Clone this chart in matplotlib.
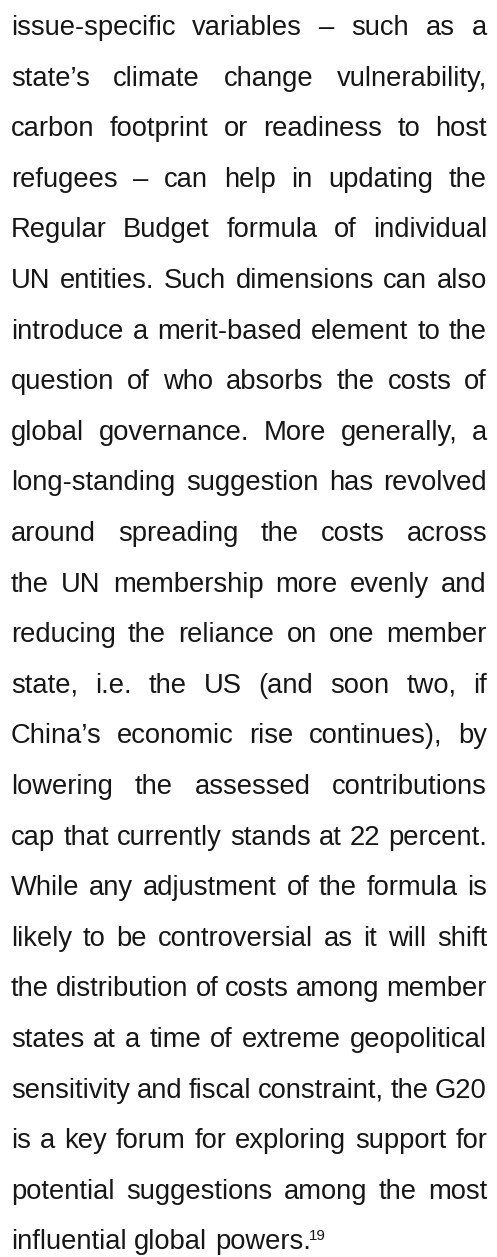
import matplotlib
matplotlib.use("Agg")
import matplotlib.pyplot as plt

lines = [
    "issue-specific variables – such as a",
    "state’s climate change vulnerability,",
    "carbon footprint or readiness to host",
    "refugees – can help in updating the",
    "Regular Budget formula of individual",
    "UN entities. Such dimensions can also",
    "introduce a merit-based element to the",
    "question of who absorbs the costs of",
    "global governance. More generally, a",
    "long-standing suggestion has revolved",
    "around spreading the costs across",
    "the UN membership more evenly and",
    "reducing the reliance on one member",
    "state, i.e. the US (and soon two, if",
    "China’s economic rise continues), by",
    "lowering the assessed contributions",
    "cap that currently stands at 22 percent.",
    "While any adjustment of the formula is",
    "likely to be controversial as it will shift",
    "the distribution of costs among member",
    "states at a time of extreme geopolitical",
    "sensitivity and fiscal constraint, the G20",
    "is a key forum for exploring support for",
    "potential suggestions among the most",
    "influential global powers.",
]
footnote = "19"

W, H = 497, 1257
left, right = 11, 487
first_base, line_gap = 35, 50.6
size = 19.7
color = "#161616"
font = "Liberation Sans"

fig = plt.figure(figsize=(W / 100, H / 100), dpi=100)
ax = fig.add_axes([0, 0, 1, 1])
ax.set_xlim(0, W)
ax.set_ylim(H, 0)
ax.axis("off")
renderer = fig.canvas.get_renderer()

# normal word space of the font (0.278 em) in pixels
space = 0.278 * size * 100 / 72

for i, line in enumerate(lines):
    y = first_base + i * line_gap
    words = line.split(" ")
    last = i == len(lines) - 1
    texts = [ax.text(0, y, w, fontsize=size, family=font, color=color,
                     va="baseline", ha="left") for w in words]
    widths = [t.get_window_extent(renderer).width for t in texts]
    if last:
        gap = space  # last line is not justified
    else:
        gap = (right - left - sum(widths)) / (len(words) - 1)
    x = left
    for t, w in zip(texts, widths):
        t.set_x(x)
        x += w + gap
    if last:
        ax.text(x - gap - 2, y - 9, footnote, fontsize=size * 0.55, family=font,
                color=color, va="baseline", ha="left")

fig.savefig("out.png", dpi=100)
